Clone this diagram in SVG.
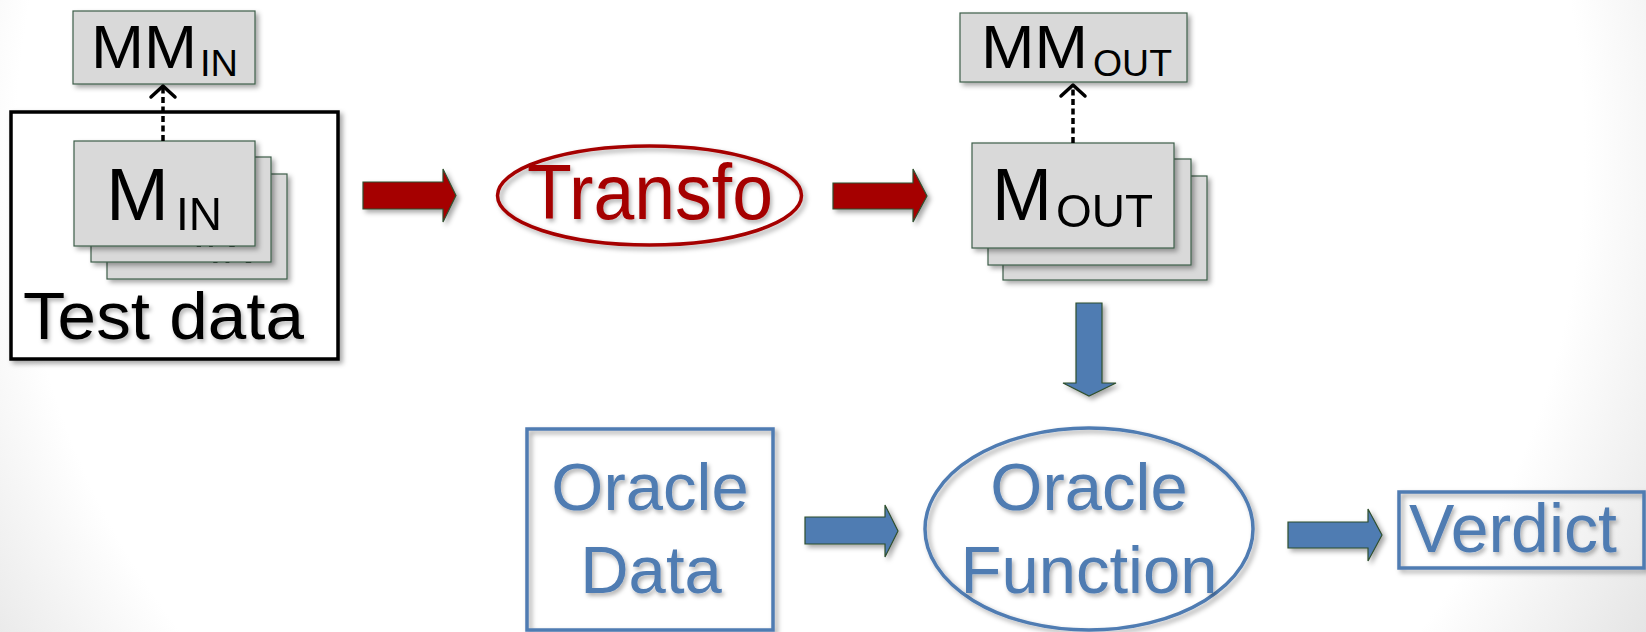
<svg xmlns="http://www.w3.org/2000/svg" width="1646" height="632" viewBox="0 0 1646 632">
  <defs>
    <radialGradient id="bg" gradientUnits="userSpaceOnUse" cx="800" cy="150" r="980">
      <stop offset="0.8" stop-color="#ffffff"/>
      <stop offset="1" stop-color="#e4e4e4"/>
    </radialGradient>
    <filter id="shadow" x="-10%" y="-10%" width="125%" height="130%">
      <feDropShadow dx="3" dy="3" stdDeviation="2.5" flood-color="#000" flood-opacity="0.35"/>
    </filter>
    <filter id="tshadow" x="-10%" y="-20%" width="125%" height="150%">
      <feDropShadow dx="2" dy="3" stdDeviation="2" flood-color="#000" flood-opacity="0.3"/>
    </filter>
    <style>
      .card { fill: #d9d9d9; stroke: #3d5e4a; stroke-width: 1.2; }
      .lbl { font-family: "Liberation Sans", Arial, sans-serif; fill: #000; }
      .red { fill: #a50000; }
      .blue { fill: #4f7bb2; }
      .redArrow { fill: #a50000; stroke: #2f4f2f; stroke-width: 1.2; }
      .blueArrow { fill: #4f7bb2; stroke: #2f4f2f; stroke-width: 1.2; }
      .dotted { stroke: #000; stroke-width: 3.5; stroke-dasharray: 6 3.5; fill: none; }
      .chevron { stroke: #000; stroke-width: 3.5; fill: none; stroke-linecap: round; stroke-linejoin: round; }
      .blueLine { fill: none; stroke: #4f7bb2; stroke-width: 3.5; }
    </style>
  </defs>

  <rect width="1646" height="632" fill="url(#bg)"/>

  <!-- input metamodel -->
  <g id="mm-in">
    <rect class="card" x="73" y="11" width="182" height="73" filter="url(#shadow)"/>
    <text class="lbl" x="91" y="68" font-size="62" textLength="106" lengthAdjust="spacingAndGlyphs">MM</text>
    <text class="lbl" x="200" y="76" font-size="36" textLength="38" lengthAdjust="spacingAndGlyphs">IN</text>
  </g>

  <!-- test data frame holding the stack of input models -->
  <g id="test-data">
    <rect x="11" y="112" width="327" height="247" fill="#fff" stroke="#000" stroke-width="3.5" filter="url(#shadow)"/>
    <g id="m-in-stack">
      <g filter="url(#shadow)">
        <rect class="card" x="107" y="174" width="180" height="105"/>
        <text class="lbl" x="139" y="253" font-size="74" textLength="63" lengthAdjust="spacingAndGlyphs">M</text>
        <text class="lbl" x="209" y="263" font-size="46" textLength="46" lengthAdjust="spacingAndGlyphs">IN</text>
      </g>
      <g filter="url(#shadow)">
        <rect class="card" x="91" y="157" width="180" height="105"/>
        <text class="lbl" x="122.5" y="236.5" font-size="74" textLength="63" lengthAdjust="spacingAndGlyphs">M</text>
        <text class="lbl" x="192.5" y="246.5" font-size="46" textLength="46" lengthAdjust="spacingAndGlyphs">IN</text>
      </g>
      <g filter="url(#shadow)">
        <rect class="card" x="74" y="141" width="181" height="105"/>
        <text class="lbl" x="106" y="220" font-size="74" textLength="63" lengthAdjust="spacingAndGlyphs">M</text>
        <text class="lbl" x="176" y="230" font-size="46" textLength="46" lengthAdjust="spacingAndGlyphs">IN</text>
      </g>
    </g>
    <text class="lbl" x="23" y="339" font-size="66" textLength="281" lengthAdjust="spacingAndGlyphs" filter="url(#tshadow)">Test data</text>
  </g>

  <!-- transformation -->
  <g id="transfo">
    <ellipse cx="649.5" cy="195.5" rx="152" ry="49.5" fill="none" stroke="#a50000" stroke-width="3.5" filter="url(#shadow)"/>
    <text class="lbl red" x="527" y="219" font-size="78" textLength="246" lengthAdjust="spacingAndGlyphs" filter="url(#tshadow)">Transfo</text>
  </g>

  <!-- output metamodel -->
  <g id="mm-out">
    <rect class="card" x="960" y="13" width="227" height="69" filter="url(#shadow)"/>
    <text class="lbl" x="981" y="68" font-size="62" textLength="107" lengthAdjust="spacingAndGlyphs">MM</text>
    <text class="lbl" x="1093" y="76" font-size="36" textLength="79" lengthAdjust="spacingAndGlyphs">OUT</text>
  </g>

  <!-- stack of output models -->
  <g id="m-out-stack">
    <g filter="url(#shadow)">
      <rect class="card" x="1003" y="176" width="204" height="104"/>
      <text class="lbl" x="1023" y="253" font-size="74" textLength="60" lengthAdjust="spacingAndGlyphs">M</text>
      <text class="lbl" x="1087" y="260" font-size="47" textLength="97" lengthAdjust="spacingAndGlyphs">OUT</text>
    </g>
    <g filter="url(#shadow)">
      <rect class="card" x="988" y="159" width="203" height="106"/>
      <text class="lbl" x="1008" y="236" font-size="74" textLength="60" lengthAdjust="spacingAndGlyphs">M</text>
      <text class="lbl" x="1072" y="243" font-size="47" textLength="97" lengthAdjust="spacingAndGlyphs">OUT</text>
    </g>
    <g filter="url(#shadow)">
      <rect class="card" x="972" y="143" width="202" height="105"/>
      <text class="lbl" x="992" y="220" font-size="74" textLength="60" lengthAdjust="spacingAndGlyphs">M</text>
      <text class="lbl" x="1056" y="227" font-size="47" textLength="97" lengthAdjust="spacingAndGlyphs">OUT</text>
    </g>
  </g>

  <!-- oracle data -->
  <g id="oracle-data">
    <rect class="blueLine" x="527" y="429" width="246" height="201" filter="url(#shadow)"/>
    <g class="lbl blue" font-size="67" text-anchor="middle" filter="url(#tshadow)">
      <text x="650" y="510">Oracle</text>
      <text x="651" y="593">Data</text>
    </g>
  </g>

  <!-- oracle function -->
  <g id="oracle-function">
    <ellipse class="blueLine" cx="1089" cy="529" rx="164" ry="101" filter="url(#shadow)"/>
    <g class="lbl blue" font-size="67" text-anchor="middle" filter="url(#tshadow)">
      <text x="1089" y="510">Oracle</text>
      <text x="1089" y="593">Function</text>
    </g>
  </g>

  <!-- verdict -->
  <g id="verdict">
    <rect class="blueLine" x="1399" y="492" width="245" height="76" filter="url(#shadow)"/>
    <text class="lbl blue" x="1513" y="552" text-anchor="middle" font-size="68" filter="url(#tshadow)">Verdict</text>
  </g>

  <!-- connectors -->
  <g id="connectors">
    <line class="dotted" x1="163" y1="141" x2="163" y2="88"/>
    <polyline class="chevron" points="151,97 163,86 175,97"/>
    <line class="dotted" x1="1073" y1="143" x2="1073" y2="87"/>
    <polyline class="chevron" points="1061,96 1073,85 1085,96"/>
    <g filter="url(#shadow)">
      <polygon class="redArrow" points="363,182 443,182 443,169 456,195.5 443,222 443,209 363,209"/>
      <polygon class="redArrow" points="833,183 913,183 913,169 927,196 913,222 913,209 833,209"/>
      <polygon class="blueArrow" points="1076,303 1102,303 1102,383 1116,383 1089,396 1063,383 1076,383"/>
      <polygon class="blueArrow" points="805,517 885,517 885,505 898,531 885,557 885,544 805,544"/>
      <polygon class="blueArrow" points="1288,522 1368,522 1368,509 1382,535 1368,561 1368,548 1288,548"/>
    </g>
  </g>
</svg>
